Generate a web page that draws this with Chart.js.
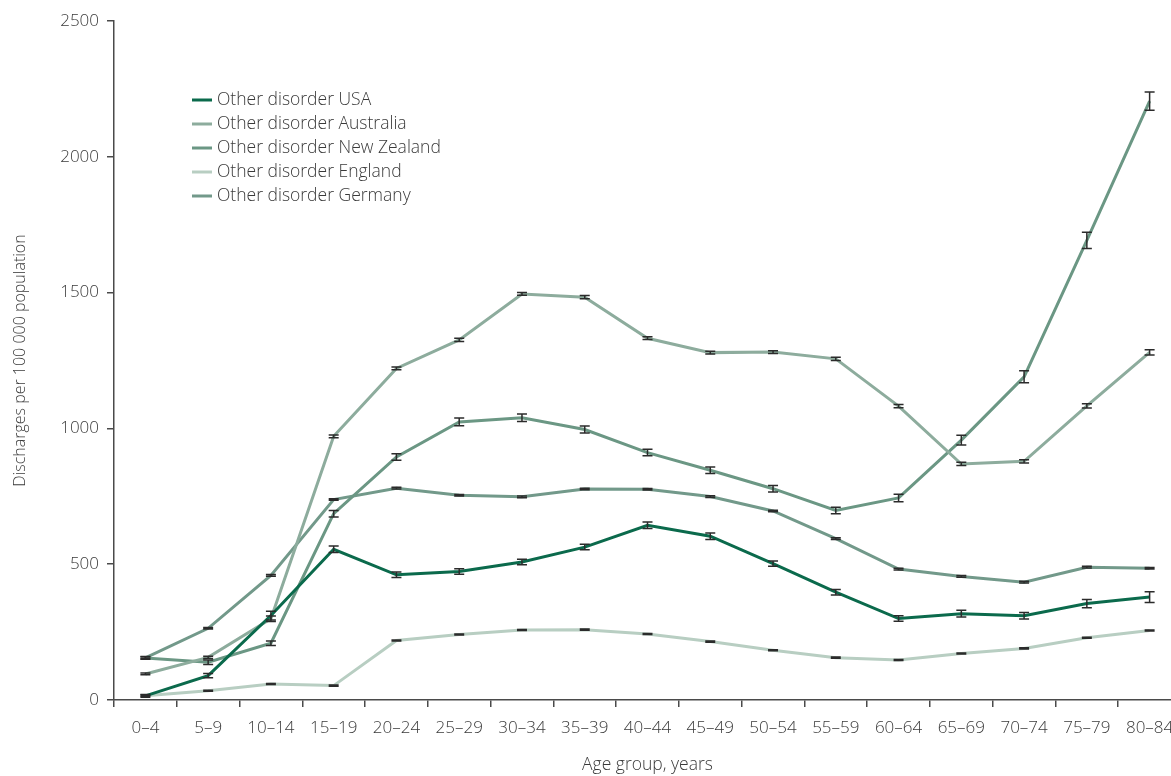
<!DOCTYPE html>
<html>
<head>
<meta charset="utf-8">
<script src="https://cdn.jsdelivr.net/npm/chart.js@4.4.1/dist/chart.umd.min.js"></script>
<style>
  body { margin: 0; background: #fff; overflow: hidden; }
  .chart-wrap { width: 1200px; height: 776px; }
</style>
</head>
<body>
<div class="chart-wrap"><canvas id="chart" width="1200" height="776"></canvas></div>
<script>
const ageGroups = ['0–4', '5–9', '10–14', '15–19', '20–24', '25–29', '30–34', '35–39', '40–44',
  '45–49', '50–54', '55–59', '60–64', '65–69', '70–74', '75–79', '80–84'];
const yTicks = [0, 500, 1000, 1500, 2000, 2500];

const usa = [15, 90, 311, 555, 461, 473, 508, 563, 643, 603, 502, 397, 300, 318, 310, 355, 379];
const australia = [96, 157, 299, 971, 1221, 1326, 1495, 1483, 1332, 1279, 1281, 1256, 1082, 869, 879, 1083, 1280];
const newZealand = [155, 139, 209, 686, 895, 1024, 1039, 996, 911, 846, 778, 698, 744, 957, 1190, 1692, 2205];
const england = [16, 34, 59, 53, 219, 241, 258, 259, 243, 215, 183, 156, 147, 171, 190, 229, 256];
const germany = [155, 264, 459, 738, 780, 754, 748, 777, 776, 749, 696, 594, 482, 455, 434, 489, 485];

// half-width of the confidence interval at each point
const usaErr = [5, 8, 16, 12, 10, 10, 10, 10, 12, 12, 10, 10, 10, 12, 12, 15, 20];
const australiaErr = [3, 4, 10, 5, 5, 6, 5, 6, 5, 5, 5, 6, 6, 6, 6, 8, 10];
const newZealandErr = [5, 8, 8, 12, 12, 14, 14, 13, 12, 12, 12, 12, 14, 18, 22, 30, 34];
const englandErr = [2, 2, 2, 2, 2, 2, 2, 2, 2, 2, 2, 2, 2, 2, 2, 2, 2];
const germanyErr = [3, 3, 3, 3, 3, 3, 3, 3, 3, 3, 3, 3, 3, 3, 3, 3, 3];

const fontFamily = '"Open Sans", "Noto Sans", sans-serif';
const textColor = '#3a3a3a';
const axisColor = '#4a4a4a';

function series(label, data, err, color) {
  return {
    label, data, err,
    borderColor: color,
    backgroundColor: color,
    borderWidth: 3,
    pointRadius: 0,
    tension: 0,
    fill: false
  };
}

const errorBars = {
  id: 'errorBars',
  afterDatasetsDraw(chart) {
    const ctx = chart.ctx;
    const y = chart.scales.y;
    ctx.save();
    ctx.strokeStyle = '#2b2b2b';
    ctx.lineWidth = 1.5;
    chart.data.datasets.forEach((ds, i) => {
      const meta = chart.getDatasetMeta(i);
      meta.data.forEach((pt, j) => {
        const e = ds.err[j];
        const top = y.getPixelForValue(ds.data[j] + e);
        const bot = y.getPixelForValue(ds.data[j] - e);
        const half = 5;
        ctx.beginPath();
        ctx.moveTo(pt.x, top); ctx.lineTo(pt.x, bot);
        ctx.moveTo(pt.x - half, top); ctx.lineTo(pt.x + half, top);
        ctx.moveTo(pt.x - half, bot); ctx.lineTo(pt.x + half, bot);
        ctx.stroke();
      });
    });
    ctx.restore();
  }
};

const sideLegend = {
  id: 'sideLegend',
  afterDraw(chart) {
    const ctx = chart.ctx;
    ctx.save();
    ctx.font = '300 17.5px ' + fontFamily;
    ctx.textBaseline = 'middle';
    ctx.fillStyle = textColor;
    chart.data.datasets.forEach((ds, i) => {
      const yy = 100 + i * 24;
      ctx.strokeStyle = ds.borderColor;
      ctx.lineWidth = 3;
      ctx.beginPath();
      ctx.moveTo(192, yy); ctx.lineTo(212, yy);
      ctx.stroke();
      ctx.fillText(ds.label, 217, yy);
    });
    ctx.restore();
  }
};

new Chart(document.getElementById('chart'), {
  type: 'line',
  data: {
    labels: ageGroups,
    datasets: [
      series('Other disorder USA', usa, usaErr, '#0b6a4c'),
      series('Other disorder Australia', australia, australiaErr, '#8dac9d'),
      series('Other disorder New Zealand', newZealand, newZealandErr, '#6b9784'),
      series('Other disorder England', england, englandErr, '#b8cec2'),
      series('Other disorder Germany', germany, germanyErr, '#72998a')
    ]
  },
  options: {
    responsive: false,
    animation: false,
    layout: { padding: { top: 21, right: 19, left: 0, bottom: 0 } },
    plugins: {
      legend: { display: false },
      tooltip: { enabled: false }
    },
    scales: {
      x: {
        offset: true,
        grid: { offset: true, drawOnChartArea: false, drawTicks: true, tickLength: 7, color: axisColor, lineWidth: 1.5 },
        border: { display: true, color: axisColor, width: 1.5 },
        ticks: { color: textColor, font: { family: fontFamily, size: 17, weight: 300 }, padding: 11, maxRotation: 0, autoSkip: false },
        title: { display: true, text: 'Age group, years', color: textColor, font: { family: fontFamily, size: 17.5, weight: 300 }, padding: { top: 4, bottom: 0 } },
        afterFit(scale) { scale.height = 76; }
      },
      y: {
        min: 0,
        max: 2500,
        afterBuildTicks(scale) { scale.ticks = yTicks.map(v => ({ value: v })); },
        grid: { drawOnChartArea: false, drawTicks: true, tickLength: 7, color: axisColor, lineWidth: 1.5 },
        border: { display: true, color: axisColor, width: 1.5 },
        ticks: { color: textColor, font: { family: fontFamily, size: 17, weight: 300 }, padding: 8, callback: v => String(v) },
        title: { display: true, text: 'Discharges per 100 000 population', color: textColor, font: { family: fontFamily, size: 16, weight: 300 }, padding: { top: 11, bottom: 0 } },
        afterFit(scale) { scale.width = 114; }
      }
    }
  },
  plugins: [errorBars, sideLegend]
});
</script>
</body>
</html>
